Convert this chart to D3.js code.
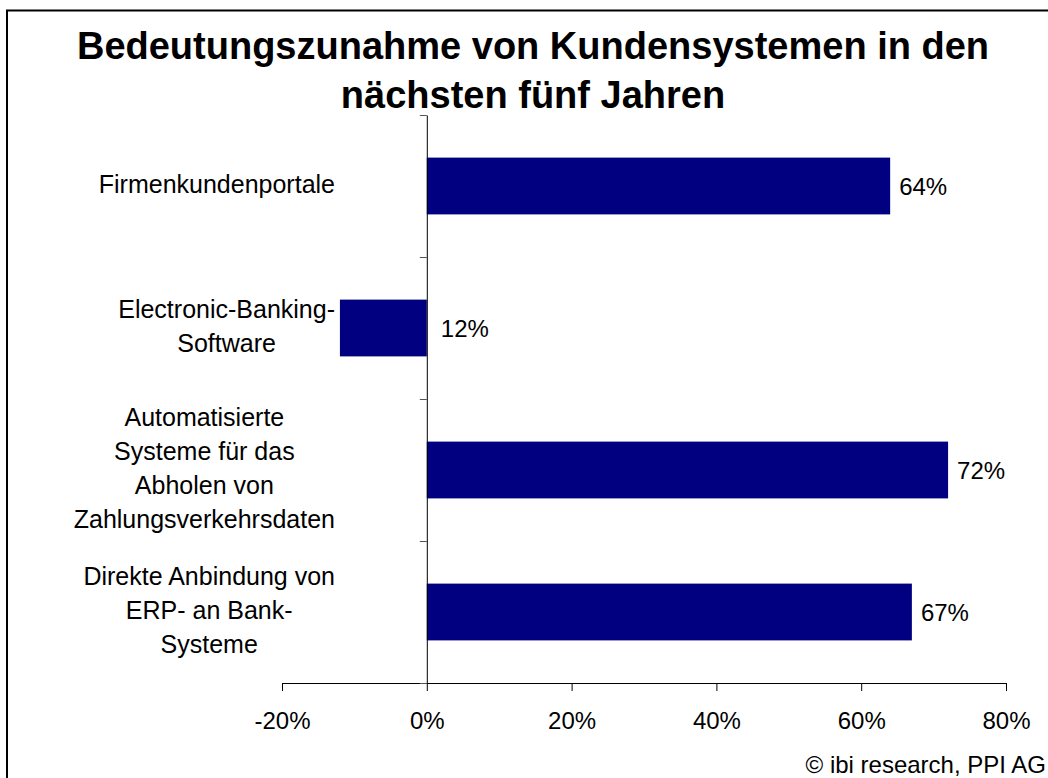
<!DOCTYPE html>
<html>
<head>
<meta charset="utf-8">
<script src="https://cdn.jsdelivr.net/npm/d3@7"></script>
<style>
  body { margin: 0; background: #fff; }
  text { font-family: "Liberation Sans", Arial, sans-serif; fill: #000; }
</style>
</head>
<body>
<script>
window.onload = function(){

// data
let categories = ["Firmenkundenportale", "Electronic-Banking-Software", "Automatisierte Systeme für das Abholen von Zahlungsverkehrsdaten", "Direkte Anbindung von ERP- an Bank-Systeme"];
let labelLines = [
	["Firmenkundenportale"],
	["Electronic-Banking-", "Software"],
	["Automatisierte", "Systeme für das", "Abholen von", "Zahlungsverkehrsdaten"],
	["Direkte Anbindung von", "ERP- an Bank-", "Systeme"]
];
let values = [0.64, -0.12, 0.72, 0.67];
let xTicks = [-0.2, 0, 0.2, 0.4, 0.6, 0.8];
let titleLines = ["Bedeutungszunahme von Kundensystemen in den", "nächsten fünf Jahren"];
let source = "© ibi research, PPI AG";

let width = 1048,
	height = 778;

let svg = d3.select("body").append("svg").attr("width", width).attr("height", height);

// outer frame, runs off the right and bottom edge
svg.append("rect")
	.attr("x", 7).attr("y", 10.5)
	.attr("width", 1100).attr("height", 900)
	.attr("fill", "none").attr("stroke", "#000").attr("stroke-width", 2);

let title = svg.append("g");
title.selectAll("text")
	.data(titleLines)
	.enter().append("text")
	.attr("x", 533)
	.attr("y", (d, i) => 59 + i * 49)
	.attr("text-anchor", "middle")
	.style("font-size", "38px")
	.style("font-weight", "bold")
	.text(d => d);

let x = d3.scaleLinear().domain([-0.2, 0.8]).range([282, 1006]);
let y = d3.scaleBand().domain(categories).range([115, 683]).paddingInner(0.6).paddingOuter(0.3);
let bounds = d3.scaleLinear().domain([0, categories.length]).range([115, 683]);

let pct = d => Math.round(d * 100) + "%";

// x axis
let xAxis = svg.append("g")
	.attr("transform", "translate(0,683)")
	.call(d3.axisBottom(x).tickValues(xTicks).tickFormat(pct).tickSize(8).tickSizeOuter(8));
xAxis.select(".domain").attr("stroke", "#000");
xAxis.selectAll(".tick line").attr("stroke", "#000");
xAxis.selectAll(".tick text")
	.attr("y", 46)
	.attr("dy", 0)
	.style("font-size", "24px")
	.style("font-family", "'Liberation Sans', Arial, sans-serif");

// bars
svg.append("g").selectAll("rect")
	.data(values)
	.enter().append("rect")
	.attr("x", d => x(Math.min(0, d)))
	.attr("y", (d, i) => y(categories[i]))
	.attr("width", d => Math.abs(x(d) - x(0)))
	.attr("height", y.bandwidth())
	.attr("fill", "#000080");

// category axis at zero
let yAxis = svg.append("g")
	.attr("transform", "translate(" + x(0) + ",0)")
	.call(d3.axisLeft(bounds).tickValues(d3.range(categories.length + 1)).tickFormat("").tickSize(7).tickSizeOuter(0));
yAxis.select(".domain").attr("stroke", "#000");
yAxis.selectAll(".tick line").attr("stroke", "#555");

// value labels
svg.append("g").selectAll("text")
	.data(values)
	.enter().append("text")
	.attr("x", d => d >= 0 ? x(d) + 9 : x(0) + 14)
	.attr("y", (d, i) => y(categories[i]) + y.bandwidth() / 2 + 9)
	.style("font-size", "24px")
	.text(d => pct(Math.abs(d)));

// category labels, lines centred inside a right-aligned block
let lineH = 34;
let labels = svg.append("g");
labelLines.forEach(function(lines, i){
	let g = labels.append("g");
	let cy = y(categories[i]) + y.bandwidth() / 2 - 2;
	let t = g.selectAll("text")
		.data(lines)
		.enter().append("text")
		.attr("y", (d, j) => cy + (j - (lines.length - 1) / 2) * lineH + 9)
		.attr("text-anchor", "middle")
		.style("font-size", "25px")
		.text(d => d);
	let maxW = d3.max(t.nodes(), n => n.getComputedTextLength());
	t.attr("x", 335 - maxW / 2);
});

svg.append("text")
	.attr("x", 1046).attr("y", 773)
	.attr("text-anchor", "end")
	.style("font-size", "24px")
	.text(source);

};
</script>
</body>
</html>
